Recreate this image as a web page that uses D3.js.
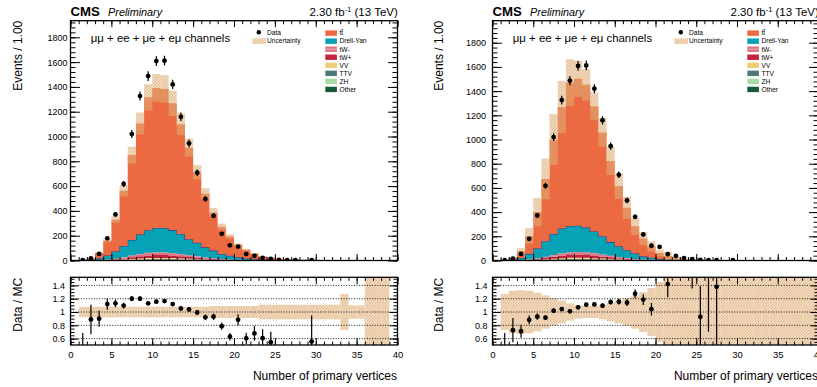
<!DOCTYPE html>
<html>
<head>
<meta charset="utf-8">
<script src="https://cdn.jsdelivr.net/npm/d3@7"></script>
<style>
  html, body { margin: 0; padding: 0; background: #fff; }
  svg { display: block; font-family: "Liberation Sans", Arial, Helvetica, sans-serif; }
</style>
</head>
<body>
<svg id="chart" width="817" height="387"></svg>
<script>
// ---- binning: number of primary vertices, one bin per integer ----
const binLow = [0,1,2,3,4,5,6,7,8,9,10,11,12,13,14,15,16,17,18,19,
                20,21,22,23,24,25,26,27,28,29,30,31,32,33,34,35,36,37,38,39];
const binWidth = 1;

// ---- observed events (same in both panels) ----
const dataCounts = [0, 2, 16, 54, 179, 372, 617, 1020, 1326, 1487, 1608, 1612, 1420, 1159, 945, 708,
                    496, 361, 215, 122, 112, 52, 38, 20, 12, 4, 3, 2, 0, 2,
                    0, 0, 0, 0, 0, 0, 0, 0, 0, 0];

// ---- simulation, left panel ----
const leftTT   = [0, 3.5, 12.5, 42, 120, 257, 445, 685, 895, 1071, 1130, 1122, 1023, 885, 738, 568, 433, 308, 221, 155,
                  101, 69, 45, 26, 17.5, 11, 7.8, 6.3, 3.1, 2.8, 2, 1.45, 0.95, 0.64, 0.48, 0.32, 0.24, 0.16, 0.12, 0];
const leftDY   = [0, 1.2, 4.5, 15, 32.5, 57, 92, 125, 158, 183, 196, 196, 185, 162, 128, 110, 81, 62, 39, 30,
                  20, 13, 8.4, 5.4, 3.5, 2.3, 1.75, 1.4, 0.7, 0.6, 0.45, 0.3, 0.22, 0.15, 0.11, 0.08, 0.06, 0.04, 0.03, 0];
const leftTWm  = [0, 0.1, 0.34, 1, 2.5, 5.1, 8.8, 13.6, 17.7, 21, 22.4, 22.4, 20.4, 17.7, 14.6, 11.6, 8.5, 6.1, 4.4, 3.1,
                  2, 1.4, 0.9, 0.55, 0.34, 0.24, 0.15, 0.1, 0.07, 0.07, 0.02, 0.02, 0.01, 0.01, 0.01, 0, 0, 0, 0, 0];
const leftTWp  = [0, 0.1, 0.34, 1, 2.5, 5.1, 8.8, 13.6, 17.7, 21, 22.4, 22.4, 20.4, 17.7, 14.6, 11.6, 8.5, 6.1, 4.4, 3.1,
                  2, 1.4, 0.9, 0.55, 0.34, 0.24, 0.15, 0.1, 0.07, 0.07, 0.02, 0.02, 0.01, 0, 0, 0, 0, 0, 0, 0];
const leftVV   = [0, 0.05, 0.15, 0.45, 1.1, 2.3, 3.9, 6, 7.8, 9.3, 9.9, 9.9, 9, 7.8, 6.5, 5.1, 3.8, 2.7, 2, 1.35,
                  0.9, 0.6, 0.4, 0.24, 0.15, 0.1, 0.07, 0.05, 0.03, 0.03, 0.01, 0.01, 0.01, 0, 0, 0, 0, 0, 0, 0];
const leftTTV  = [0, 0.03, 0.09, 0.27, 0.7, 1.35, 2.3, 3.6, 4.7, 5.6, 5.9, 5.9, 5.4, 4.7, 3.9, 3.1, 2.2, 1.6, 1.2, 0.8,
                  0.55, 0.35, 0.23, 0.14, 0.09, 0.06, 0.04, 0.03, 0.02, 0.02, 0, 0, 0, 0, 0, 0, 0, 0, 0, 0];
const leftZH   = [0, 0.01, 0.03, 0.1, 0.25, 0.45, 0.8, 1.2, 1.6, 1.9, 2, 2, 1.8, 1.6, 1.3, 1, 0.75, 0.55, 0.4, 0.27,
                  0.2, 0.12, 0.08, 0.05, 0.03, 0.02, 0.02, 0.01, 0, 0, 0, 0, 0, 0, 0, 0, 0, 0, 0, 0];
const leftOther= [0, 0.01, 0.05, 0.15, 0.4, 0.75, 1.3, 2, 2.6, 3.1, 3.3, 3.3, 3, 2.6, 2.1, 1.7, 1.25, 0.9, 0.65, 0.45,
                  0.3, 0.2, 0.13, 0.08, 0.05, 0.04, 0.02, 0.01, 0.01, 0.01, 0, 0, 0, 0, 0, 0, 0, 0, 0, 0];
// relative total uncertainty per bin
const leftRelErr = [0, 0.08, 0.08, 0.08, 0.08, 0.08, 0.08, 0.08, 0.08, 0.08, 0.08, 0.08, 0.08, 0.08, 0.08, 0.08, 0.08,
                    0.09, 0.09, 0.09, 0.09, 0.09, 0.09, 0.11, 0.11, 0.11, 0.11, 0.11, 0.11, 0.11, 0.11, 0.11, 0.11,
                    0.27, 0.1, 0.1, 1, 1, 1, 0];

// ---- simulation, right panel ----
const rightTT   = [0, 3.5, 15, 55, 148, 300, 514, 780, 1004, 1187, 1216, 1180, 1034, 858, 670, 495, 350, 225, 146, 94,
                   50, 29.2, 14.4, 7.2, 5, 3.4, 1.44, 1.15, 0.64, 0.28, 0.24, 0.16, 0.12, 0.08, 0.064, 0.04, 0.032, 0.024, 0.016, 0.012];
const rightDY   = [0, 1.2, 5.8, 17, 45.5, 82, 129, 174, 206, 216, 216, 203, 179, 150, 113, 89, 65, 45, 26.5, 17.5,
                   9.4, 5.7, 2.8, 1.4, 1, 0.7, 0.32, 0.25, 0.15, 0.07, 0.06, 0.04, 0.03, 0.02, 0.016, 0.01, 0.008, 0.006, 0.004, 0.003];
const rightTWm  = [0, 0.1, 0.4, 1.36, 3.2, 6.1, 10.5, 15.6, 20, 23.5, 24.1, 23.5, 20.7, 17, 13.3, 9.9, 6.8, 4.4, 2.9, 1.9,
                   1, 0.58, 0.3, 0.17, 0.1, 0.07, 0.02, 0.02, 0.01, 0, 0, 0, 0, 0, 0, 0, 0, 0, 0, 0];
const rightTWp  = [0, 0.1, 0.4, 1.36, 3.2, 6.1, 10.5, 15.6, 20, 23.5, 24.1, 23.5, 20.7, 17, 13.3, 9.9, 6.8, 4.4, 2.9, 1.9,
                   1, 0.58, 0.3, 0.17, 0.1, 0.07, 0.02, 0.02, 0, 0, 0, 0, 0, 0, 0, 0, 0, 0, 0, 0];
const rightVV   = [0, 0.05, 0.18, 0.6, 1.4, 2.7, 4.6, 6.9, 8.9, 10.4, 10.7, 10.4, 9.2, 7.5, 5.9, 4.4, 3, 2, 1.3, 0.8,
                   0.45, 0.26, 0.14, 0.03, 0.05, 0.03, 0, 0.01, 0, 0, 0, 0, 0, 0, 0, 0, 0, 0, 0, 0];
const rightTTV  = [0, 0.03, 0.11, 0.36, 0.85, 1.6, 2.8, 4.1, 5.3, 6.2, 6.4, 6.2, 5.5, 4.5, 3.5, 2.6, 1.8, 1.2, 0.77, 0.5,
                   0.27, 0.15, 0.08, 0.02, 0.03, 0.02, 0, 0, 0, 0, 0, 0, 0, 0, 0, 0, 0, 0, 0, 0];
const rightZH   = [0, 0.01, 0.04, 0.12, 0.3, 0.55, 0.9, 1.4, 1.8, 2.1, 2.1, 2.1, 1.8, 1.5, 1.2, 0.9, 0.6, 0.4, 0.25, 0.17,
                   0.09, 0.05, 0.03, 0.005, 0.01, 0.01, 0, 0, 0, 0, 0, 0, 0, 0, 0, 0, 0, 0, 0, 0];
const rightOther= [0, 0.01, 0.06, 0.2, 0.5, 0.9, 1.6, 2.3, 3, 3.4, 3.6, 3.4, 3.1, 2.5, 2, 1.45, 1, 0.65, 0.43, 0.28,
                   0.15, 0.08, 0.05, 0.005, 0.01, 0.01, 0, 0, 0, 0, 0, 0, 0, 0, 0, 0, 0, 0, 0, 0];
const rightRelErr = [0, 0.27, 0.32, 0.33, 0.32, 0.29, 0.25, 0.21, 0.17, 0.13, 0.1, 0.09, 0.09, 0.11, 0.14, 0.17, 0.21,
                     0.25, 0.3, 0.36, 0.45, 1, 1, 1, 1, 1, 1, 1, 1, 1, 1, 1, 1, 1, 1, 1, 1, 1, 1, 1];

// ---- axis ticks and labels ----
const xMajorTicks = [0, 5, 10, 15, 20, 25, 30, 35, 40];
const yMainTicks = [0, 200, 400, 600, 800, 1000, 1200, 1400, 1600, 1800];
const yRatioTicks = [0.6, 0.8, 1, 1.2, 1.4];
const ratioRange = [0.504, 1.522];
const channelText = "\u03bc\u03bc + ee + \u03bce + e\u03bc channels";

// ---- processes (legend order; stacked in reverse) ----
const processes = [
  { key: "tt",    label: "tt",        color: "#ec6a42" },
  { key: "dy",    label: "Drell-Yan", color: "#08a2b6" },
  { key: "twm",   label: "tW-",       color: "#db7482" },
  { key: "twp",   label: "tW+",       color: "#c42340" },
  { key: "vv",    label: "VV",        color: "#edce74" },
  { key: "ttv",   label: "TTV",       color: "#4e7879" },
  { key: "zh",    label: "ZH",        color: "#a6dda6" },
  { key: "other", label: "Other",     color: "#185b3a" }
];
const stackKeys = processes.map(p => p.key).reverse();
const colorOf = Object.fromEntries(processes.map(p => [p.key, p.color]));

const panels = [
  { x0: 70.5, x1: 397.5, yMax: 1934, labelPad: 3, ratioPad: 5.5, titleX: 21.5,
    mc: { tt: leftTT, dy: leftDY, twm: leftTWm, twp: leftTWp, vv: leftVV, ttv: leftTTV, zh: leftZH, other: leftOther },
    relErr: leftRelErr },
  { x0: 492.5, x1: 818.5, yMax: 1982, labelPad: 6.5, ratioPad: 5, titleX: 443,
    mc: { tt: rightTT, dy: rightDY, twm: rightTWm, twp: rightTWp, vv: rightVV, ttv: rightTTV, zh: rightZH, other: rightOther },
    relErr: rightRelErr }
];

const mainTop = 20.7, mainBot = 260.5, ratioTop = 277.3, ratioBot = 345;

const svg = d3.select("#chart");
const defs = svg.append("defs");

// fine, translucent diagonal hatch used for the uncertainty bands
const hatch = defs.append("pattern")
  .attr("id", "hatch")
  .attr("patternUnits", "userSpaceOnUse")
  .attr("width", 2.2).attr("height", 2.2)
  .attr("patternTransform", "rotate(45)");
hatch.append("rect").attr("width", 2.2).attr("height", 2.2).attr("fill", "#e6b985").attr("fill-opacity", 0.5);
hatch.append("rect").attr("width", 0.8).attr("height", 2.2).attr("fill", "#cf8c4a").attr("fill-opacity", 0.45);

function styleAxis(sel, fontSize) {
  sel.select(".domain").remove();
  sel.selectAll(".tick line").attr("stroke", "#000").attr("stroke-width", 1);
  sel.selectAll(".tick text").attr("fill", "#000").attr("font-size", fontSize)
     .attr("font-family", "Liberation Sans, Arial, sans-serif");
}

panels.forEach((p, pi) => {
  const g = svg.append("g");
  const x = d3.scaleLinear().domain([0, 40]).range([p.x0, p.x1]);
  const y = d3.scaleLinear().domain([0, p.yMax]).range([mainBot, mainTop]);
  const yr = d3.scaleLinear().domain(ratioRange).range([ratioBot, ratioTop]);

  const clipMain = "clipMain" + pi, clipRatio = "clipRatio" + pi;
  defs.append("clipPath").attr("id", clipMain).append("rect")
    .attr("x", p.x0).attr("y", mainTop).attr("width", p.x1 - p.x0).attr("height", mainBot - mainTop);
  defs.append("clipPath").attr("id", clipRatio).append("rect")
    .attr("x", p.x0).attr("y", ratioTop).attr("width", p.x1 - p.x0).attr("height", ratioBot - ratioTop);

  // rows of per-bin yields
  const rows = binLow.map((b, i) => {
    const r = { bin: b };
    stackKeys.forEach(k => { r[k] = p.mc[k][i]; });
    return r;
  });
  const totals = rows.map(r => d3.sum(stackKeys, k => r[k]));
  const lastBin = binLow[binLow.length - 1] + binWidth;

  // ---- stacked histogram ----
  const layers = d3.stack().keys(stackKeys)(rows);
  const stepArea = d3.area()
    .x(d => x(d.x)).y0(d => y(d.y0)).y1(d => y(d.y1))
    .curve(d3.curveStepAfter);
  const stepLine = d3.line().x(d => x(d.x)).y(d => y(d.y)).curve(d3.curveStepAfter);

  const mainG = g.append("g").attr("clip-path", `url(#${clipMain})`);
  layers.forEach(layer => {
    const pts = layer.map(d => ({ x: d.data.bin, y0: d[0], y1: d[1] }));
    const last = pts[pts.length - 1];
    pts.push({ x: lastBin, y0: last.y0, y1: last.y1 });
    mainG.append("path").attr("d", stepArea(pts)).attr("fill", colorOf[layer.key]).attr("stroke", "none");
    if (layer.key === "dy" || layer.key === "twm") {
      const top = pts.map(d => ({ x: d.x, y: d.y1 }));
      mainG.append("path").attr("d", stepLine(top)).attr("fill", "none")
        .attr("stroke", layer.key === "dy" ? "#24408f" : "#f1aab4")
        .attr("stroke-width", layer.key === "dy" ? 1.1 : 0.9);
    }
  });

  // ---- uncertainty band on the stack ----
  mainG.append("g").selectAll("rect")
    .data(binLow.map((b, i) => ({ b, t: totals[i], e: p.relErr[i] })).filter(d => d.t > 0))
    .join("rect")
    .attr("x", d => x(d.b)).attr("width", d => x(d.b + binWidth) - x(d.b))
    .attr("y", d => y(d.t * (1 + d.e)))
    .attr("height", d => y(Math.max(0, d.t * (1 - d.e))) - y(d.t * (1 + d.e)))
    .attr("fill", "url(#hatch)");

  // ---- data points ----
  const pts = binLow.map((b, i) => ({ c: b + binWidth / 2, n: dataCounts[i] })).filter(d => d.n > 0);
  const dataG = mainG.append("g");
  dataG.selectAll("line").data(pts).join("line")
    .attr("x1", d => x(d.c)).attr("x2", d => x(d.c))
    .attr("y1", d => y(d.n - Math.sqrt(d.n))).attr("y2", d => y(d.n + Math.sqrt(d.n)))
    .attr("stroke", "#000").attr("stroke-width", 1.2);
  dataG.selectAll("circle").data(pts).join("circle")
    .attr("cx", d => x(d.c)).attr("cy", d => y(d.n)).attr("r", 2.4).attr("fill", "#000");

  // ---- main frame axes ----
  let a;
  a = g.append("g").attr("transform", `translate(${p.x0},0)`)
    .call(d3.axisLeft(y).tickValues(yMainTicks).tickSize(-9.5).tickPadding(p.labelPad).tickFormat(d3.format("d")));
  styleAxis(a, 9);
  a = g.append("g").attr("transform", `translate(${p.x0},0)`)
    .call(d3.axisLeft(y).tickValues(d3.range(0, p.yMax, 40)).tickSize(-5).tickFormat(""));
  styleAxis(a, 9);
  a = g.append("g").attr("transform", `translate(${p.x1},0)`)
    .call(d3.axisRight(y).tickValues(yMainTicks).tickSize(-9.5).tickFormat(""));
  styleAxis(a, 9);
  a = g.append("g").attr("transform", `translate(${p.x1},0)`)
    .call(d3.axisRight(y).tickValues(d3.range(0, p.yMax, 40)).tickSize(-5).tickFormat(""));
  styleAxis(a, 9);
  [[mainBot, d3.axisBottom], [mainTop, d3.axisTop]].forEach(([yy, fn]) => {
    a = g.append("g").attr("transform", `translate(0,${yy})`)
      .call(fn(x).tickValues(xMajorTicks).tickSize(-6.5).tickFormat(""));
    styleAxis(a, 9);
    a = g.append("g").attr("transform", `translate(0,${yy})`)
      .call(fn(x).tickValues(d3.range(0, 41, 1)).tickSize(-3.5).tickFormat(""));
    styleAxis(a, 9);
  });
  g.append("rect").attr("x", p.x0).attr("y", mainTop)
    .attr("width", p.x1 - p.x0).attr("height", mainBot - mainTop)
    .attr("fill", "none").attr("stroke", "#000").attr("stroke-width", 1.3);

  // ---- ratio panel ----
  const ratioG = g.append("g").attr("clip-path", `url(#${clipRatio})`);
  ratioG.append("g").selectAll("rect")
    .data(binLow.map((b, i) => ({ b, t: totals[i], e: p.relErr[i] })).filter(d => d.t > 0))
    .join("rect")
    .attr("x", d => x(d.b)).attr("width", d => x(d.b + binWidth) - x(d.b))
    .attr("y", d => yr(1 + d.e)).attr("height", d => yr(1 - d.e) - yr(1 + d.e))
    .attr("fill", "url(#hatch)");
  ratioG.append("g").selectAll("line").data(yRatioTicks).join("line")
    .attr("x1", p.x0).attr("x2", p.x1).attr("y1", d => yr(d)).attr("y2", d => yr(d))
    .attr("stroke", "#000").attr("stroke-width", 0.9).attr("stroke-dasharray", "1,1.6");
  const rpts = binLow.map((b, i) => ({ c: b + binWidth / 2, n: dataCounts[i], t: totals[i] }))
    .filter(d => d.n > 0 && d.t > 0)
    .map(d => ({ c: d.c, r: d.n / d.t, e: Math.sqrt(d.n) / d.t }));
  ratioG.append("g").selectAll("line").data(rpts).join("line")
    .attr("x1", d => x(d.c)).attr("x2", d => x(d.c))
    .attr("y1", d => yr(d.r - d.e)).attr("y2", d => yr(d.r + d.e))
    .attr("stroke", "#000").attr("stroke-width", 1.2);
  ratioG.append("g").selectAll("circle").data(rpts).join("circle")
    .attr("cx", d => x(d.c)).attr("cy", d => yr(d.r)).attr("r", 2.4).attr("fill", "#000");

  const ratioMinor = d3.range(0.55, 1.5001, 0.05);
  a = g.append("g").attr("transform", `translate(${p.x0},0)`)
    .call(d3.axisLeft(yr).tickValues(yRatioTicks).tickSize(-8).tickPadding(p.ratioPad).tickFormat(d => String(+d.toFixed(1))));
  styleAxis(a, 9);
  a = g.append("g").attr("transform", `translate(${p.x0},0)`)
    .call(d3.axisLeft(yr).tickValues(ratioMinor).tickSize(-4).tickFormat(""));
  styleAxis(a, 9);
  a = g.append("g").attr("transform", `translate(${p.x1},0)`)
    .call(d3.axisRight(yr).tickValues(yRatioTicks).tickSize(-8).tickFormat(""));
  styleAxis(a, 9);
  a = g.append("g").attr("transform", `translate(${p.x1},0)`)
    .call(d3.axisRight(yr).tickValues(ratioMinor).tickSize(-4).tickFormat(""));
  styleAxis(a, 9);
  a = g.append("g").attr("transform", `translate(0,${ratioBot})`)
    .call(d3.axisBottom(x).tickValues(xMajorTicks).tickSize(-7).tickPadding(6.3).tickFormat(d3.format("d")));
  styleAxis(a, 9.5);
  a = g.append("g").attr("transform", `translate(0,${ratioBot})`)
    .call(d3.axisBottom(x).tickValues(d3.range(0, 41, 1)).tickSize(-3.5).tickFormat(""));
  styleAxis(a, 9.5);
  a = g.append("g").attr("transform", `translate(0,${ratioTop})`)
    .call(d3.axisTop(x).tickValues(xMajorTicks).tickSize(-7).tickFormat(""));
  styleAxis(a, 9.5);
  a = g.append("g").attr("transform", `translate(0,${ratioTop})`)
    .call(d3.axisTop(x).tickValues(d3.range(0, 41, 1)).tickSize(-3.5).tickFormat(""));
  styleAxis(a, 9.5);
  g.append("rect").attr("x", p.x0).attr("y", ratioTop)
    .attr("width", p.x1 - p.x0).attr("height", ratioBot - ratioTop)
    .attr("fill", "none").attr("stroke", "#000").attr("stroke-width", 1.3);

  // ---- titles ----
  g.append("text").attr("transform", `translate(${p.titleX},${mainTop}) rotate(-90)`)
    .attr("text-anchor", "end").attr("font-size", 12).text("Events / 1.00");
  g.append("text").attr("transform", `translate(${p.titleX},${ratioTop + 0.5}) rotate(-90)`)
    .attr("text-anchor", "end").attr("font-size", 12).text("Data / MC");
  g.append("text").attr("x", p.x1 - 0.5).attr("y", 380).attr("text-anchor", "end")
    .attr("font-size", 12).text("Number of primary vertices");

  g.append("text").attr("x", p.x0).attr("y", 15.7).attr("font-size", 13.2).attr("font-weight", "bold").text("CMS");
  g.append("text").attr("x", p.x0 + 37.6).attr("y", 15.7).attr("font-size", 10.8).attr("font-style", "italic").text("Preliminary");
  const lumi = g.append("text").attr("x", p.x1 + 0.3).attr("y", 16).attr("text-anchor", "end").attr("font-size", 11.5);
  lumi.append("tspan").text("2.30 fb");
  lumi.append("tspan").attr("font-size", 7.5).attr("dy", -4.5).text("-1");
  lumi.append("tspan").attr("dy", 4.5).text(" (13 TeV)");

  g.append("text").attr("x", p.x0 + 20.3).attr("y", 41.7).attr("font-size", 11.4).text(channelText);

  // ---- legend ----
  const lg = g.append("g").attr("transform", `translate(${p.x0},0)`).attr("font-size", 6.6);
  lg.append("circle").attr("cx", 188.3).attr("cy", 32.3).attr("r", 2.2).attr("fill", "#000");
  lg.append("text").attr("x", 196.6).attr("y", 34.6).text("Data");
  lg.append("rect").attr("x", 181.9).attr("y", 38.3).attr("width", 13.5).attr("height", 5.6).attr("fill", "url(#hatch)");
  lg.append("text").attr("x", 196.6).attr("y", 43.4).text("Uncertainty");
  processes.forEach((pr, i) => {
    const cy = 33.1 + i * 8.05;
    lg.append("rect").attr("x", 254.8).attr("y", cy - 2.7).attr("width", 11.6).attr("height", 5.4).attr("fill", pr.color);
    if (pr.key === "twm") {
      lg.append("line").attr("x1", 254.8).attr("x2", 266.4).attr("y1", cy).attr("y2", cy)
        .attr("stroke", "#f1aab4").attr("stroke-width", 1);
    }
    const t = lg.append("text").attr("x", 269).attr("y", cy + 2.3);
    if (pr.key === "tt") {
      t.append("tspan").text("t");
      t.append("tspan").attr("text-decoration", "overline").text("t");
    } else {
      t.text(pr.label);
    }
  });
});
</script>
</body>
</html>
